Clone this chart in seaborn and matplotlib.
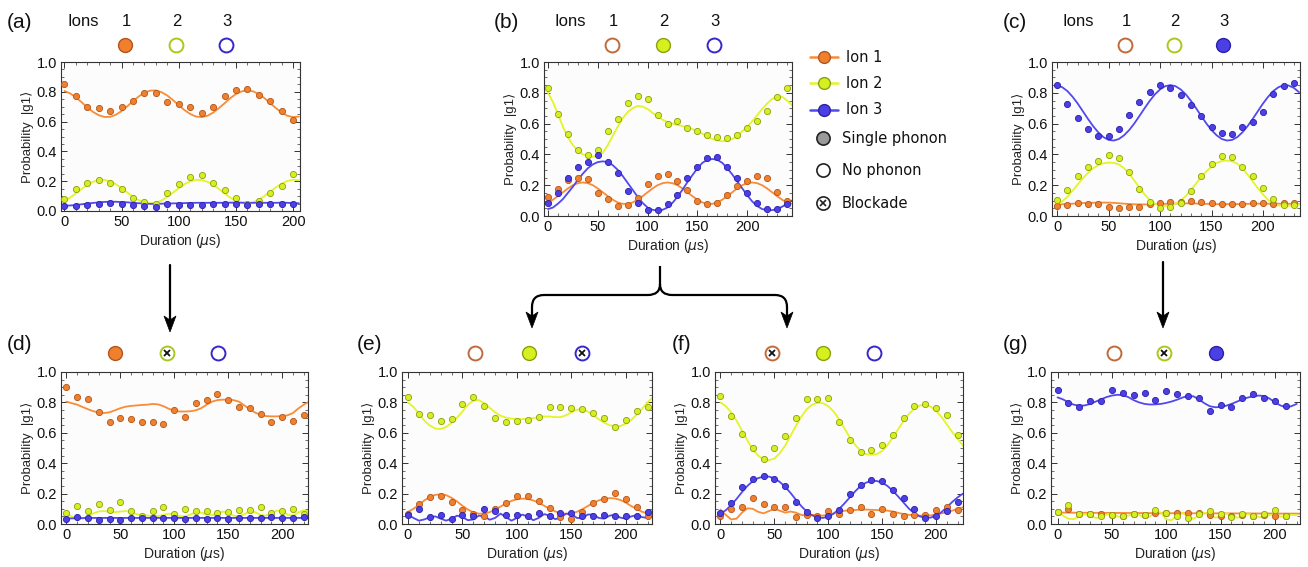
import matplotlib
matplotlib.use("Agg")
import matplotlib.pyplot as plt
import seaborn as sns
from matplotlib.lines import Line2D
from matplotlib.patches import Polygon, PathPatch
from matplotlib.path import Path
from matplotlib.transforms import Affine2D
from matplotlib.ticker import MultipleLocator, FormatStrFormatter

sns.set_theme(style="ticks")
plt.rcParams["font.family"] = ["Liberation Sans", "DejaVu Sans"]
plt.rcParams["mathtext.fontset"] = "dejavusans"

W, H = 1308, 567

# ---------------- data ----------------
# panel (a)
A_T = list(range(0, 201, 10))
A_ION1 = [0.85, 0.77, 0.70, 0.69, 0.67, 0.70, 0.74, 0.79, 0.79, 0.73, 0.72, 0.70, 0.66, 0.70, 0.77, 0.81, 0.82, 0.78, 0.74, 0.67, 0.61]
A_ION2 = [0.08, 0.15, 0.19, 0.21, 0.19, 0.15, 0.09, 0.06, 0.05, 0.12, 0.18, 0.23, 0.24, 0.19, 0.14, 0.09, 0.05, 0.07, 0.12, 0.17, 0.25]
A_ION3 = [0.035, 0.035, 0.04, 0.05, 0.055, 0.045, 0.04, 0.035, 0.03, 0.045, 0.04, 0.04, 0.04, 0.045, 0.045, 0.045, 0.04, 0.045, 0.05, 0.05, 0.045]
A_FIT_T = list(range(0, 210, 5))
A_FIT1 = [0.806, 0.789, 0.763, 0.730, 0.696, 0.665, 0.643, 0.631, 0.632, 0.646, 0.671, 0.703, 0.737, 0.769, 0.794, 0.808, 0.809, 0.797, 0.775, 0.744, 0.710, 0.677, 0.651, 0.634, 0.630, 0.639, 0.660, 0.690, 0.723, 0.757, 0.785, 0.803, 0.810, 0.803, 0.785, 0.757, 0.723, 0.690, 0.660, 0.639, 0.630, 0.634]
A_FIT2 = [0.068, 0.090, 0.118, 0.148, 0.175, 0.196, 0.208, 0.209, 0.199, 0.180, 0.154, 0.124, 0.095, 0.072, 0.055, 0.050, 0.055, 0.071, 0.095, 0.124, 0.154, 0.180, 0.199, 0.209, 0.208, 0.196, 0.175, 0.148, 0.118, 0.090, 0.068, 0.054, 0.050, 0.058, 0.076, 0.101, 0.130, 0.159, 0.184, 0.202, 0.210, 0.206]
A_FIT3 = [0.035, 0.037, 0.040, 0.045, 0.050, 0.054, 0.058, 0.061, 0.062, 0.062, 0.060, 0.058, 0.055, 0.052, 0.050, 0.048, 0.048, 0.049, 0.050, 0.051, 0.052, 0.053, 0.054, 0.055, 0.055, 0.055, 0.055, 0.055, 0.055, 0.056, 0.056, 0.056, 0.055, 0.055, 0.055, 0.055, 0.055, 0.055, 0.056, 0.055, 0.053, 0.052]

# panel (b)
B_T = list(range(0, 241, 10))
B_ION1 = [0.124, 0.174, 0.235, 0.25, 0.24, 0.15, 0.11, 0.067, 0.074, 0.12, 0.21, 0.26, 0.27, 0.23, 0.17, 0.098, 0.08, 0.085, 0.137, 0.193, 0.23, 0.26, 0.245, 0.155, 0.098]
B_ION2 = [0.833, 0.663, 0.533, 0.43, 0.398, 0.43, 0.554, 0.633, 0.737, 0.776, 0.76, 0.659, 0.598, 0.615, 0.572, 0.554, 0.528, 0.511, 0.507, 0.524, 0.57, 0.62, 0.68, 0.772, 0.833]
B_ION3 = [0.087, 0.15, 0.245, 0.32, 0.35, 0.395, 0.35, 0.28, 0.165, 0.085, 0.037, 0.037, 0.08, 0.137, 0.245, 0.315, 0.375, 0.385, 0.32, 0.245, 0.15, 0.087, 0.043, 0.043, 0.08]
B_FIT_T = list(range(0, 250, 5))
B_FIT1 = [0.088, 0.106, 0.129, 0.154, 0.179, 0.2, 0.213, 0.218, 0.213, 0.2, 0.179, 0.154, 0.129, 0.106, 0.088, 0.079, 0.079, 0.088, 0.106, 0.129, 0.154, 0.179, 0.2, 0.213, 0.218, 0.213, 0.2, 0.179, 0.154, 0.129, 0.106, 0.088, 0.079, 0.079, 0.088, 0.106, 0.129, 0.154, 0.179, 0.2, 0.213, 0.218, 0.213, 0.2, 0.179, 0.154, 0.129, 0.106, 0.088, 0.079]
B_FIT2 = [0.80, 0.74, 0.66, 0.58, 0.51, 0.46, 0.425, 0.40, 0.39, 0.385, 0.39, 0.41, 0.46, 0.52, 0.58, 0.635, 0.675, 0.70, 0.715, 0.71, 0.695, 0.67, 0.645, 0.625, 0.61, 0.60, 0.59, 0.585, 0.575, 0.565, 0.55, 0.535, 0.515, 0.50, 0.49, 0.485, 0.49, 0.50, 0.52, 0.55, 0.58, 0.615, 0.655, 0.695, 0.73, 0.76, 0.775, 0.775, 0.75, 0.72]
B_FIT3 = [0.045, 0.055, 0.08, 0.11, 0.15, 0.19, 0.235, 0.275, 0.31, 0.335, 0.35, 0.355, 0.35, 0.33, 0.30, 0.26, 0.215, 0.17, 0.125, 0.085, 0.055, 0.04, 0.035, 0.04, 0.055, 0.085, 0.125, 0.17, 0.22, 0.265, 0.31, 0.345, 0.365, 0.37, 0.365, 0.345, 0.31, 0.27, 0.225, 0.18, 0.135, 0.095, 0.065, 0.045, 0.038, 0.038, 0.045, 0.06, 0.08, 0.1]

# panel (c)
C_T = list(range(0, 231, 10))
C_ION1 = [0.065, 0.07, 0.085, 0.08, 0.08, 0.06, 0.055, 0.06, 0.06, 0.08, 0.085, 0.09, 0.09, 0.095, 0.09, 0.085, 0.075, 0.075, 0.075, 0.085, 0.085, 0.08, 0.085, 0.085]
C_ION2 = [0.104, 0.167, 0.26, 0.315, 0.359, 0.398, 0.376, 0.283, 0.178, 0.091, 0.054, 0.059, 0.087, 0.163, 0.26, 0.337, 0.391, 0.385, 0.315, 0.257, 0.18, 0.113, 0.072, 0.07]
C_ION3 = [0.848, 0.728, 0.637, 0.565, 0.522, 0.522, 0.565, 0.657, 0.739, 0.804, 0.848, 0.833, 0.783, 0.724, 0.652, 0.576, 0.537, 0.533, 0.58, 0.609, 0.678, 0.793, 0.843, 0.863]
C_FIT_T = list(range(0, 240, 5))
C_FIT1 = [0.075, 0.076, 0.078, 0.08, 0.082, 0.084, 0.085, 0.086, 0.087, 0.087, 0.087, 0.085, 0.083, 0.08, 0.078, 0.076, 0.075, 0.075, 0.076, 0.077, 0.078, 0.079, 0.08, 0.081, 0.082, 0.082, 0.082, 0.081, 0.08, 0.079, 0.078, 0.077, 0.077, 0.077, 0.077, 0.077, 0.078, 0.079, 0.08, 0.08, 0.08, 0.08, 0.08, 0.08, 0.079, 0.079, 0.078, 0.078]
C_FIT2 = [0.075, 0.095, 0.125, 0.165, 0.205, 0.245, 0.28, 0.31, 0.33, 0.342, 0.347, 0.345, 0.335, 0.31, 0.275, 0.23, 0.185, 0.14, 0.105, 0.08, 0.068, 0.065, 0.068, 0.08, 0.10, 0.13, 0.17, 0.21, 0.255, 0.29, 0.32, 0.345, 0.357, 0.36, 0.355, 0.34, 0.31, 0.27, 0.225, 0.18, 0.14, 0.105, 0.08, 0.068, 0.065, 0.066, 0.07, 0.075]
C_FIT3 = [0.849, 0.836, 0.811, 0.774, 0.73, 0.68, 0.63, 0.583, 0.543, 0.512, 0.494, 0.49, 0.5, 0.524, 0.558, 0.601, 0.65, 0.70, 0.748, 0.79, 0.822, 0.843, 0.85, 0.843, 0.822, 0.79, 0.748, 0.70, 0.65, 0.601, 0.558, 0.524, 0.5, 0.49, 0.494, 0.512, 0.543, 0.583, 0.63, 0.68, 0.73, 0.774, 0.811, 0.836, 0.849, 0.847, 0.832, 0.804]

# panel (d)
D_T = list(range(0, 221, 10))
D_ION1 = [0.90, 0.836, 0.825, 0.738, 0.672, 0.70, 0.688, 0.668, 0.67, 0.657, 0.753, 0.707, 0.793, 0.819, 0.854, 0.819, 0.773, 0.766, 0.725, 0.668, 0.703, 0.679, 0.716]
D_ION2 = [0.072, 0.116, 0.087, 0.131, 0.094, 0.148, 0.083, 0.055, 0.087, 0.109, 0.066, 0.098, 0.083, 0.083, 0.074, 0.076, 0.09, 0.094, 0.114, 0.072, 0.087, 0.10, 0.068]
D_ION3 = [0.03, 0.045, 0.04, 0.028, 0.03, 0.028, 0.04, 0.04, 0.04, 0.042, 0.04, 0.035, 0.038, 0.033, 0.042, 0.033, 0.038, 0.038, 0.04, 0.046, 0.04, 0.038, 0.046]
D_FIT_T = list(range(0, 230, 5))
D_FIT1 = [0.805, 0.795, 0.785, 0.77, 0.755, 0.742, 0.733, 0.73, 0.735, 0.748, 0.762, 0.772, 0.777, 0.78, 0.783, 0.785, 0.79, 0.787, 0.775, 0.758, 0.745, 0.74, 0.74, 0.742, 0.748, 0.762, 0.785, 0.805, 0.815, 0.818, 0.818, 0.815, 0.805, 0.78, 0.755, 0.733, 0.718, 0.71, 0.708, 0.708, 0.71, 0.715, 0.73, 0.76, 0.785, 0.805]
D_FIT2 = [0.065, 0.05, 0.035, 0.035, 0.05, 0.07, 0.083, 0.085, 0.08, 0.078, 0.082, 0.085, 0.078, 0.065, 0.058, 0.055, 0.052, 0.052, 0.06, 0.068, 0.062, 0.052, 0.05, 0.062, 0.078, 0.075, 0.062, 0.058, 0.07, 0.082, 0.072, 0.055, 0.05, 0.065, 0.082, 0.078, 0.06, 0.055, 0.07, 0.088, 0.085, 0.062, 0.055, 0.075, 0.09, 0.082]
D_FIT3_T = [0, 10, 20, 225]
D_FIT3 = [0.036, 0.038, 0.04, 0.04]

# panel (e)
E_T = list(range(0, 221, 10))
E_ION1 = [0.068, 0.133, 0.177, 0.186, 0.148, 0.09, 0.065, 0.05, 0.10, 0.138, 0.181, 0.181, 0.153, 0.105, 0.046, 0.033, 0.076, 0.138, 0.166, 0.203, 0.166, 0.111, 0.055]
E_ION2 = [0.836, 0.723, 0.72, 0.677, 0.694, 0.788, 0.836, 0.777, 0.70, 0.668, 0.677, 0.683, 0.705, 0.77, 0.77, 0.764, 0.755, 0.727, 0.699, 0.635, 0.683, 0.745, 0.77]
E_ION3 = [0.06, 0.10, 0.045, 0.06, 0.03, 0.06, 0.05, 0.10, 0.087, 0.06, 0.06, 0.05, 0.07, 0.055, 0.07, 0.07, 0.055, 0.055, 0.06, 0.055, 0.055, 0.05, 0.08]
E_FIT_T = list(range(0, 230, 5))
E_FIT1 = [0.08, 0.1, 0.125, 0.155, 0.178, 0.192, 0.195, 0.19, 0.172, 0.148, 0.12, 0.095, 0.077, 0.068, 0.068, 0.078, 0.095, 0.115, 0.135, 0.152, 0.163, 0.167, 0.165, 0.155, 0.14, 0.12, 0.1, 0.083, 0.072, 0.067, 0.07, 0.08, 0.097, 0.118, 0.138, 0.155, 0.166, 0.17, 0.168, 0.158, 0.14, 0.118, 0.098, 0.08, 0.07, 0.066]
E_FIT2 = [0.80, 0.77, 0.725, 0.68, 0.648, 0.628, 0.625, 0.638, 0.665, 0.70, 0.74, 0.785, 0.812, 0.815, 0.795, 0.765, 0.735, 0.712, 0.70, 0.693, 0.69, 0.69, 0.692, 0.697, 0.703, 0.707, 0.707, 0.703, 0.703, 0.715, 0.735, 0.752, 0.755, 0.74, 0.715, 0.69, 0.667, 0.65, 0.642, 0.645, 0.66, 0.685, 0.72, 0.76, 0.80, 0.835]
E_FIT3 = [0.06, 0.04, 0.022, 0.03, 0.045, 0.05, 0.035, 0.022, 0.035, 0.055, 0.045, 0.025, 0.03, 0.055, 0.05, 0.028, 0.04, 0.068, 0.045, 0.022, 0.04, 0.062, 0.048, 0.025, 0.04, 0.065, 0.055, 0.032, 0.04, 0.068, 0.065, 0.04, 0.038, 0.062, 0.063, 0.04, 0.035, 0.055, 0.06, 0.042, 0.035, 0.05, 0.058, 0.045, 0.04, 0.05]

# panel (f)
F_T = list(range(0, 221, 10))
F_ION1 = [0.055, 0.10, 0.11, 0.17, 0.133, 0.11, 0.11, 0.044, 0.06, 0.05, 0.083, 0.066, 0.094, 0.114, 0.068, 0.10, 0.066, 0.055, 0.057, 0.057, 0.094, 0.11, 0.09]
F_ION2 = [0.84, 0.71, 0.59, 0.502, 0.43, 0.498, 0.579, 0.70, 0.821, 0.825, 0.832, 0.672, 0.552, 0.476, 0.487, 0.52, 0.587, 0.699, 0.775, 0.788, 0.76, 0.716, 0.585]
F_ION3 = [0.072, 0.138, 0.242, 0.295, 0.317, 0.295, 0.247, 0.142, 0.076, 0.04, 0.055, 0.094, 0.196, 0.258, 0.29, 0.28, 0.225, 0.17, 0.098, 0.04, 0.05, 0.085, 0.144]
F_FIT_T = list(range(0, 230, 5))
F_FIT1 = [0.095, 0.06, 0.03, 0.035, 0.075, 0.103, 0.1, 0.08, 0.07, 0.085, 0.1, 0.088, 0.075, 0.082, 0.075, 0.06, 0.055, 0.06, 0.058, 0.055, 0.06, 0.07, 0.08, 0.087, 0.09, 0.092, 0.095, 0.095, 0.093, 0.092, 0.09, 0.088, 0.082, 0.073, 0.065, 0.06, 0.057, 0.055, 0.055, 0.057, 0.062, 0.07, 0.078, 0.088, 0.1, 0.11]
F_FIT2 = [0.80, 0.775, 0.735, 0.68, 0.615, 0.55, 0.49, 0.45, 0.425, 0.42, 0.43, 0.465, 0.515, 0.58, 0.645, 0.705, 0.755, 0.785, 0.797, 0.795, 0.775, 0.74, 0.69, 0.63, 0.57, 0.52, 0.482, 0.46, 0.455, 0.46, 0.48, 0.52, 0.57, 0.625, 0.68, 0.725, 0.76, 0.78, 0.785, 0.772, 0.745, 0.705, 0.655, 0.605, 0.56, 0.515]
F_FIT3 = [0.07, 0.09, 0.125, 0.165, 0.21, 0.25, 0.282, 0.302, 0.312, 0.312, 0.3, 0.277, 0.245, 0.205, 0.16, 0.118, 0.082, 0.057, 0.043, 0.04, 0.048, 0.068, 0.098, 0.135, 0.175, 0.215, 0.25, 0.272, 0.283, 0.283, 0.272, 0.25, 0.218, 0.18, 0.14, 0.1, 0.07, 0.05, 0.04, 0.042, 0.055, 0.078, 0.11, 0.145, 0.175, 0.2]

# panel (g)
G_T = list(range(0, 211, 10))
G_ION1 = [0.08, 0.10, 0.065, 0.065, 0.065, 0.06, 0.055, 0.065, 0.06, 0.07, 0.07, 0.075, 0.075, 0.075, 0.06, 0.055, 0.055, 0.06, 0.055, 0.06, 0.05, 0.055]
G_ION2 = [0.08, 0.125, 0.065, 0.065, 0.05, 0.06, 0.05, 0.065, 0.06, 0.09, 0.07, 0.055, 0.04, 0.065, 0.085, 0.065, 0.045, 0.065, 0.055, 0.065, 0.09, 0.055]
G_ION3 = [0.883, 0.795, 0.768, 0.81, 0.806, 0.883, 0.861, 0.85, 0.865, 0.817, 0.874, 0.856, 0.845, 0.83, 0.746, 0.786, 0.768, 0.826, 0.856, 0.83, 0.812, 0.779]
G_FIT_T = list(range(0, 225, 5))
G_FIT1_T = [0, 50, 100, 150, 225]
G_FIT1 = [0.075, 0.073, 0.071, 0.07, 0.068]
G_FIT2 = [0.08, 0.055, 0.035, 0.032, 0.05, 0.065, 0.055, 0.04, 0.045, 0.062, 0.068, 0.052, 0.042, 0.055, 0.07, 0.06, 0.04, 0.05, 0.08, 0.075, 0.03, 0.025, 0.06, 0.075, 0.05, 0.035, 0.055, 0.075, 0.062, 0.042, 0.05, 0.07, 0.063, 0.042, 0.045, 0.065, 0.062, 0.045, 0.045, 0.06, 0.06, 0.048, 0.05, 0.06, 0.058]
G_FIT3 = [0.833, 0.82, 0.8, 0.785, 0.778, 0.78, 0.79, 0.805, 0.82, 0.835, 0.845, 0.85, 0.848, 0.835, 0.815, 0.8, 0.79, 0.786, 0.787, 0.79, 0.797, 0.806, 0.818, 0.832, 0.843, 0.84, 0.82, 0.795, 0.775, 0.768, 0.77, 0.778, 0.79, 0.805, 0.82, 0.832, 0.84, 0.845, 0.842, 0.825, 0.8, 0.78, 0.768, 0.775, 0.79]

ERR = 0.017
ION_NAMES = ["Ion 1", "Ion 2", "Ion 3"]
LEGEND_EXTRA = ["Single phonon", "No phonon", "Blockade"]
X_TICKS = [0, 50, 100, 150, 200]

# ---------------- styles ----------------
ION_FACE = ["#f0802e", "#d6ef1e", "#4b3fe6"]
ION_EDGE = ["#b0561c", "#8c9e14", "#2c20a6"]
LINE_COL = ["#f98c36", "#e3f526", "#5248ef"]
OPEN_EDGE = ["#c06a3a", "#a9c81c", "#3427cc"]

fig = plt.figure(figsize=(W / 100, H / 100), dpi=100)
PX = Affine2D().scale(1.0 / W, -1.0 / H).translate(0, 1) + fig.transFigure


def box(l, t, r, b):
    return [l / W, 1 - b / H, (r - l) / W, (b - t) / H]


PANELS = [
    dict(box=(61, 62, 300, 211), xlim=(-3, 206), t=A_T, ions=(A_ION1, A_ION2, A_ION3),
         fits=((A_FIT_T, A_FIT1), (A_FIT_T, A_FIT2), (A_FIT_T, A_FIT3)),
         lab="(a)", lab_xy=(20, 22), ions_x=83, cx=(125, 176, 226), cy=45, st="FOO"),
    dict(box=(544, 62, 792, 216), xlim=(-4, 245), t=B_T, ions=(B_ION1, B_ION2, B_ION3),
         fits=((B_FIT_T, B_FIT1), (B_FIT_T, B_FIT2), (B_FIT_T, B_FIT3)),
         lab="(b)", lab_xy=(506, 22), ions_x=570, cx=(612, 663, 714), cy=45, st="OFO"),
    dict(box=(1052, 62, 1300, 216), xlim=(-5, 236), t=C_T, ions=(C_ION1, C_ION2, C_ION3),
         fits=((C_FIT_T, C_FIT1), (C_FIT_T, C_FIT2), (C_FIT_T, C_FIT3)),
         lab="(c)", lab_xy=(1015, 22), ions_x=1078, cx=(1125, 1174, 1223), cy=45, st="OOF"),
    dict(box=(61, 372, 308, 524), xlim=(-5, 224), t=D_T, ions=(D_ION1, D_ION2, D_ION3),
         fits=((D_FIT_T, D_FIT1), (D_FIT_T, D_FIT2), (D_FIT3_T, D_FIT3)),
         lab="(d)", lab_xy=(20, 344), ions_x=None, cx=(115, 167, 218), cy=353, st="FXO"),
    dict(box=(402, 372, 652, 524), xlim=(-5.5, 224), t=E_T, ions=(E_ION1, E_ION2, E_ION3),
         fits=((E_FIT_T, E_FIT1), (E_FIT_T, E_FIT2), (E_FIT_T, E_FIT3)),
         lab="(e)", lab_xy=(370, 344), ions_x=None, cx=(475, 529, 582), cy=353, st="OFX"),
    dict(box=(715, 372, 963, 524), xlim=(-5, 225), t=F_T, ions=(F_ION1, F_ION2, F_ION3),
         fits=((F_FIT_T, F_FIT1), (F_FIT_T, F_FIT2), (F_FIT_T, F_FIT3)),
         lab="(f)", lab_xy=(682, 344), ions_x=None, cx=(772, 823, 874), cy=353, st="XFO"),
    dict(box=(1051, 372, 1300, 524), xlim=(-6, 223), t=G_T, ions=(G_ION1, G_ION2, G_ION3),
         fits=((G_FIT1_T, G_FIT1), (G_FIT_T, G_FIT2), (G_FIT_T, G_FIT3)),
         lab="(g)", lab_xy=(1015, 344), ions_x=None, cx=(1114, 1164, 1216), cy=353, st="OXF"),
]


def draw_panel(p):
    ax = fig.add_axes(box(*p["box"]))
    ax.set_facecolor("#fcfcfc")
    for i in range(3):
        ft, fy = p["fits"][i]
        sns.lineplot(x=ft, y=fy, ax=ax, color=LINE_COL[i], lw=1.3, sort=False,
                     legend=False, zorder=2)
    for i in range(3):
        ax.errorbar(p["t"], p["ions"][i], yerr=ERR, fmt="none", ecolor=ION_EDGE[i],
                    elinewidth=0.8, capsize=0, zorder=3)
        sns.scatterplot(x=p["t"], y=p["ions"][i], ax=ax, color=ION_FACE[i],
                        edgecolor=ION_EDGE[i], linewidth=0.6, s=20, legend=False, zorder=4)
    ax.set_xlim(*p["xlim"])
    ax.set_ylim(0, 1)
    ax.set_xticks(X_TICKS)
    ax.xaxis.set_minor_locator(MultipleLocator(10))
    ax.yaxis.set_major_locator(MultipleLocator(0.2))
    ax.yaxis.set_minor_locator(MultipleLocator(0.05))
    ax.yaxis.set_major_formatter(FormatStrFormatter("%.1f"))
    ax.tick_params(which="both", direction="in", top=True, right=True, colors="#333333",
                   labelcolor="#111111", labelsize=10.5, pad=3)
    ax.tick_params(which="major", length=4, width=0.7)
    ax.tick_params(which="minor", length=2, width=0.5)
    for s in ax.spines.values():
        s.set_color("#333333")
        s.set_linewidth(0.8)
    ax.set_xlabel("Duration ($\\mu$s)", fontsize=10, labelpad=2, color="#222222")
    ax.set_ylabel("Probability  |g1\u27e9", fontsize=9.5, labelpad=2, color="#222222")

    # header
    fig.text(*p["lab_xy"], p["lab"], transform=PX, fontsize=15, ha="center", va="center",
             color="#111111")
    if p["ions_x"] is not None:
        fig.text(p["ions_x"], 22, "Ions", transform=PX, fontsize=12, ha="center",
                 va="center", color="#111111")
        for i in range(3):
            fig.text(p["cx"][i] + 1, 22, str(i + 1), transform=PX, fontsize=12,
                     ha="center", va="center", color="#111111")
    for i, s in enumerate(p["st"]):
        x, y = p["cx"][i], p["cy"]
        if s == "F":
            fig.add_artist(Line2D([x], [y], transform=PX, ls="none", marker="o", ms=10,
                                  mfc=ION_FACE[i], mec=ION_EDGE[i], mew=1.0))
        else:
            fig.add_artist(Line2D([x], [y], transform=PX, ls="none", marker="o", ms=10,
                                  mfc="white", mec=OPEN_EDGE[i], mew=1.4))
            if s == "X":
                fig.add_artist(Line2D([x], [y], transform=PX, ls="none", marker="x", ms=5,
                                      mec="#111111", mew=1.3))


for p in PANELS:
    draw_panel(p)

# ---------------- legend ----------------
for i, yy in enumerate([57, 83, 110]):
    fig.add_artist(Line2D([810, 838], [yy, yy], transform=PX, color=LINE_COL[i], lw=1.8))
    fig.add_artist(Line2D([824], [yy], transform=PX, ls="none", marker="o", ms=8.5,
                          mfc=ION_FACE[i], mec=ION_EDGE[i], mew=1.0))
    fig.text(846, yy, ION_NAMES[i], transform=PX, fontsize=10.5, va="center", ha="left",
             family="DejaVu Sans", color="#111111")
fig.add_artist(Line2D([823], [138], transform=PX, ls="none", marker="o", ms=9.5,
                      mfc="#9a9a9a", mec="#222222", mew=1.2))
fig.add_artist(Line2D([823], [170], transform=PX, ls="none", marker="o", ms=9.5,
                      mfc="white", mec="#222222", mew=1.2))
fig.add_artist(Line2D([823], [203], transform=PX, ls="none", marker="o", ms=9.5,
                      mfc="white", mec="#222222", mew=1.2))
fig.add_artist(Line2D([823], [203], transform=PX, ls="none", marker="x", ms=5,
                      mec="#222222", mew=1.2))
for txt, yy in zip(LEGEND_EXTRA, [138, 170, 203]):
    fig.text(842, yy, txt, transform=PX, fontsize=10.5, va="center", ha="left",
             family="DejaVu Sans", color="#111111")

# ---------------- arrows ----------------
def arrow_head(x, tip):
    fig.add_artist(Polygon([(x - 6, tip - 16), (x, tip - 12), (x + 6, tip - 16), (x, tip)],
                           closed=True, transform=PX, facecolor="black", edgecolor="black",
                           lw=0.5))


for x, y0, tip in [(170, 265, 332), (1163, 262, 328)]:
    fig.add_artist(Line2D([x, x], [y0, tip - 12], transform=PX, color="black", lw=1.6))
    arrow_head(x, tip)

verts = [(660, 266), (660, 284), (660, 295), (648, 295), (544, 295), (532, 295), (532, 307),
         (532, 316)]
codes = [Path.MOVETO, Path.LINETO, Path.CURVE3, Path.CURVE3, Path.LINETO, Path.CURVE3,
         Path.CURVE3, Path.LINETO]
fig.add_artist(PathPatch(Path(verts, codes), transform=PX, fill=False, lw=1.6,
                         edgecolor="black"))
verts_r = [(660, 284), (660, 295), (672, 295), (775, 295), (787, 295), (787, 307), (787, 316)]
codes_r = [Path.MOVETO, Path.CURVE3, Path.CURVE3, Path.LINETO, Path.CURVE3, Path.CURVE3,
           Path.LINETO]
fig.add_artist(PathPatch(Path(verts_r, codes_r), transform=PX, fill=False, lw=1.6,
                         edgecolor="black"))
arrow_head(532, 328)
arrow_head(787, 328)

fig.savefig("out.png", dpi=100)
